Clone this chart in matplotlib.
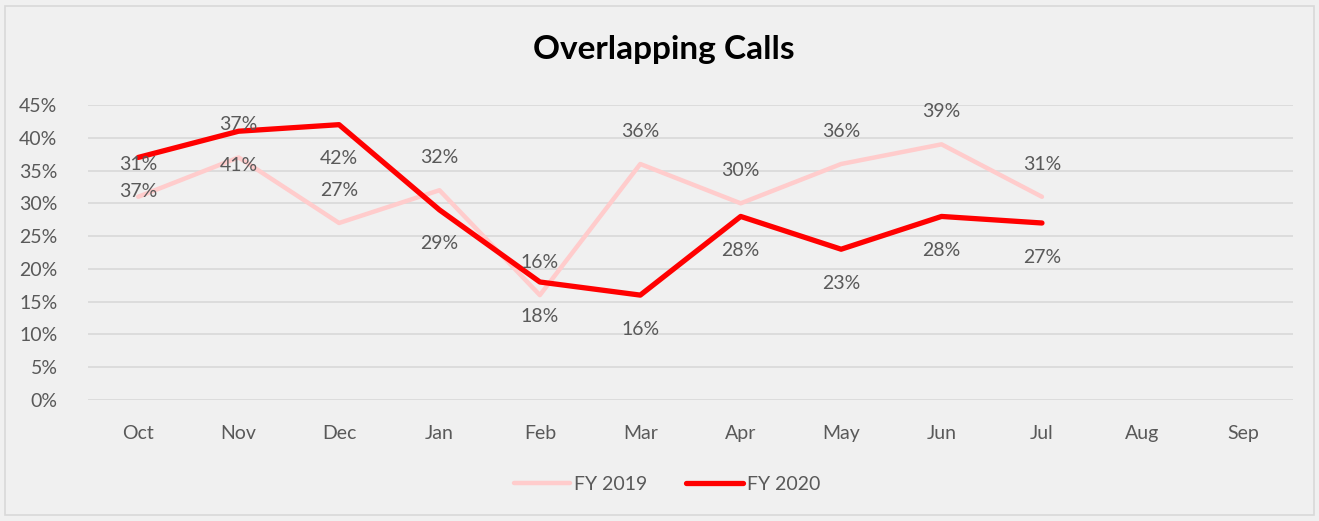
import numpy as np
import matplotlib.pyplot as plt

plt.rcParams['font.family'] = ['Lato', 'DejaVu Sans']

months = ['Oct', 'Nov', 'Dec', 'Jan', 'Feb', 'Mar', 'Apr', 'May', 'Jun', 'Jul', 'Aug', 'Sep']
fy2019 = [31, 37, 27, 32, 16, 36, 30, 36, 39, 31]
fy2020 = [37, 41, 42, 29, 18, 16, 28, 23, 28, 27]
yticks = [0, 5, 10, 15, 20, 25, 30, 35, 40, 45]

bg = '#f0f0f0'
txt = '#595959'

fig = plt.figure(figsize=(13.19, 5.21), dpi=100, facecolor=bg)
ax = fig.add_axes([88 / 1319, 1 - 400 / 521, (1293 - 88) / 1319, 295 / 521])
ax.set_facecolor(bg)

# outer border
fig.add_artist(plt.Rectangle((5 / 1319, 6 / 521), 1 - 10 / 1319, 1 - 12 / 521,
                             transform=fig.transFigure, fill=False,
                             edgecolor='#d9d9d9', lw=1.2))

x19 = np.arange(len(fy2019))
x20 = np.arange(len(fy2020))
ax.plot(x19, fy2019, color='#ffcccc', lw=3.2, solid_joinstyle='round',
        solid_capstyle='round', label='FY 2019')
ax.plot(x20, fy2020, color='#ff0000', lw=3.8, solid_joinstyle='round',
        solid_capstyle='round', label='FY 2020')

for i, v in enumerate(fy2019):
    ax.annotate(f'{v}%', (i, v), xytext=(0, 23.5), textcoords='offset points',
                ha='center', va='center', fontsize=14, color=txt)
for i, v in enumerate(fy2020):
    ax.annotate(f'{v}%', (i, v), xytext=(0, -24.5), textcoords='offset points',
                ha='center', va='center', fontsize=14, color=txt)

ax.set_xlim(-0.5, len(months) - 0.5)
ax.set_ylim(0, 45)
ax.set_xticks(range(len(months)))
ax.set_xticklabels(months)
ax.set_yticks(yticks)
ax.set_yticklabels([f'{t}%' for t in yticks])
ax.tick_params(axis='both', length=0, labelsize=14, labelcolor=txt)
ax.tick_params(axis='x', pad=18)
ax.tick_params(axis='y', pad=22)
ax.grid(axis='y', color='#d9d9d9', lw=1.2)
ax.set_axisbelow(True)
for s in ax.spines.values():
    s.set_visible(False)

fig.text(664 / 1319, 1 - 50 / 521, 'Overlapping Calls', ha='center', va='center',
         fontsize=24, fontweight='bold', color='black')

fig.legend(loc='center', bbox_to_anchor=(667 / 1319, 1 - 484 / 521), ncol=2,
           frameon=False, fontsize=14, labelcolor=txt, handlelength=2.9,
           handletextpad=0.2, columnspacing=2.0)

fig.savefig('out.png', dpi=100, facecolor=bg)
